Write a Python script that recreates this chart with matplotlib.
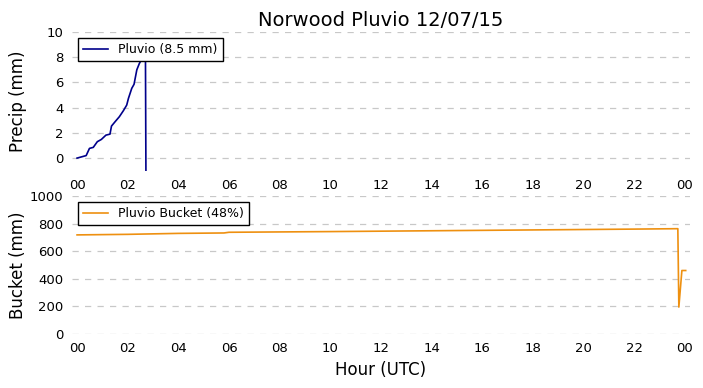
import matplotlib
matplotlib.use("Agg")
import matplotlib.pyplot as plt
import numpy as np

# Precip (hours, mm)
precip_hours = [0.0, 0.18, 0.36, 0.49, 0.64, 0.80, 0.96, 1.14, 1.30, 1.36, 1.50, 1.67,
                1.83, 1.96, 2.03, 2.16, 2.25, 2.36, 2.46, 2.55, 2.62, 2.70, 2.72]
precip_mm = [0.0, 0.1, 0.2, 0.77, 0.85, 1.3, 1.48, 1.82, 1.9, 2.54, 2.88, 3.28,
             3.76, 4.2, 4.74, 5.53, 5.85, 7.0, 7.5, 7.83, 8.2, 8.5, -1.5]

# Bucket (hours, mm)
bucket_hours = [0.0, 2.0, 4.0, 5.8, 6.0, 10.0, 14.0, 18.0, 22.0, 23.72, 23.76, 23.88, 24.03]
bucket_mm = [718, 722, 729, 732, 737, 742, 748, 754, 760, 763, 195, 460, 460]

xticks = list(range(0, 25, 2))
xticklabels = ["%02d" % (h % 24) for h in xticks]

fig = plt.figure(figsize=(7.03, 3.88), dpi=100)
ax1 = fig.add_axes([0.1024, 0.560, 0.8791, 0.3577])
ax2 = fig.add_axes([0.1024, 0.1392, 0.8791, 0.3557])

def style(ax):
    for s in ax.spines.values():
        s.set_visible(False)
    ax.tick_params(length=0, labelsize=9.5, pad=6)
    ax.yaxis.grid(True, linestyle=(0, (5, 5)), color="#c8c8c8", linewidth=0.9)
    ax.set_axisbelow(True)
    ax.set_xticks(xticks)
    ax.set_xticklabels(xticklabels)
    ax.set_xlim(-0.2, 24.2)

ax1.plot(precip_hours, precip_mm, color="#00008B", linewidth=1.2, label="Pluvio (8.5 mm)")
ax1.set_ylim(-1, 10)
ax1.set_yticks([0, 2, 4, 6, 8, 10])
style(ax1)
ax1.set_ylabel("Precip (mm)", fontsize=12)
ax1.yaxis.set_label_coords(-0.072, 0.5)
ax1.set_title("Norwood Pluvio 12/07/15", fontsize=14, pad=4)
leg1 = ax1.legend(loc="upper left", fontsize=9, fancybox=False, framealpha=1,
                  edgecolor="black", borderaxespad=0.5)
leg1.get_frame().set_linewidth(1.0)

ax2.plot(bucket_hours, bucket_mm, color="#EE9010", linewidth=1.2, label="Pluvio Bucket (48%)")
ax2.set_ylim(0, 1000)
ax2.set_yticks([0, 200, 400, 600, 800, 1000])
style(ax2)
ax2.set_ylabel("Bucket (mm)", fontsize=12)
ax2.yaxis.set_label_coords(-0.072, 0.5)
ax2.set_xlabel("Hour (UTC)", fontsize=12)
leg2 = ax2.legend(loc="upper left", fontsize=9, fancybox=False, framealpha=1,
                  edgecolor="black", borderaxespad=0.5)
leg2.get_frame().set_linewidth(1.0)

fig.savefig("out.png", dpi=100)
